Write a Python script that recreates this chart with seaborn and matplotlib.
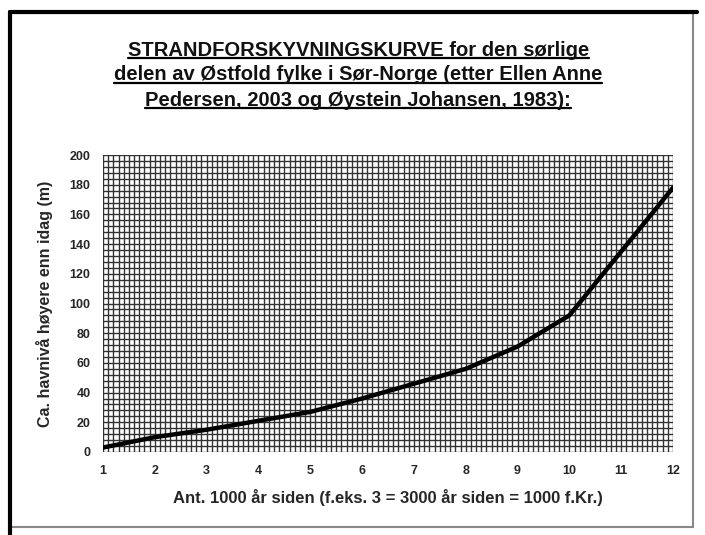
import matplotlib
matplotlib.use("Agg")
import matplotlib.pyplot as plt
import seaborn as sns
import pandas as pd
import numpy as np
from matplotlib.patches import Rectangle
from matplotlib.lines import Line2D

# Data
thousand_years = [1, 2, 3, 4, 5, 6, 7, 8, 9, 10, 11, 12]
sea_level_m = [3, 10, 15, 21, 27, 36, 46, 56, 71, 92, 135, 178]

title_lines = [
    "STRANDFORSKYVNINGSKURVE for den sørlige",
    "delen av Østfold fylke i Sør-Norge (etter Ellen Anne",
    "Pedersen, 2003 og Øystein Johansen, 1983):",
]
x_label = "Ant. 1000 år siden (f.eks. 3 = 3000 år siden = 1000 f.Kr.)"
y_label = "Ca. havnivå høyere enn idag (m)"

df = pd.DataFrame({"x": thousand_years, "y": sea_level_m})

sns.set_theme(style="white")
plt.rcParams["font.family"] = ["Liberation Sans", "DejaVu Sans"]

fig = plt.figure(figsize=(7.05, 5.35), dpi=100)
ax = fig.add_axes([103 / 705, 1 - 452 / 535, 570 / 705, 297 / 535])

# dense graph-paper grid
ax.set_xlim(1, 12)
ax.set_ylim(0, 200)
ax.set_xticks(range(1, 13))
ax.set_yticks(range(0, 201, 20))
ax.set_xticks(np.arange(1, 12.01, 0.1), minor=True)
ax.set_yticks(np.arange(0, 200.1, 4), minor=True)
ax.grid(which="both", color="#333333", linewidth=1.0)
ax.tick_params(which="minor", length=0)
ax.tick_params(which="major", length=0, labelsize=9, pad=9)
for lab in ax.get_xticklabels() + ax.get_yticklabels():
    lab.set_fontweight("bold")
for s in ax.spines.values():
    s.set_visible(False)

sns.lineplot(data=df, x="x", y="y", color="black", linewidth=3.2, ax=ax)

ax.set_xlabel(x_label, fontsize=12, fontweight="bold", labelpad=9)
ax.set_ylabel(y_label, fontsize=11.5, fontweight="bold", labelpad=12)

# title with underline
title_y = [50, 75, 100]
texts = []
for line, yp in zip(title_lines, title_y):
    t = fig.text(0.508, 1 - yp / 535, line, ha="center", va="center",
                 fontsize=14.5, fontweight="bold", color="#111111")
    texts.append(t)

fig.canvas.draw()
renderer = fig.canvas.get_renderer()
inv = fig.transFigure.inverted()
for t in texts:
    bb = t.get_window_extent(renderer)
    (x0, y0), (x1, y1) = inv.transform([[bb.x0, bb.y0], [bb.x1, bb.y1]])
    fig.add_artist(Line2D([x0, x1], [y0 + 0.003, y0 + 0.003], color="black",
                          linewidth=1.6, transform=fig.transFigure))

# outer frame like the scanned image
fig.add_artist(Rectangle((10 / 705, 1 - 527 / 535), 683 / 705, 514 / 535,
                         fill=False, edgecolor="#888888", linewidth=1.5,
                         transform=fig.transFigure))
fig.add_artist(Line2D([10 / 705, 10 / 705], [1 - 535 / 535, 1 - 12 / 535],
                      color="black", linewidth=3, transform=fig.transFigure))
fig.add_artist(Line2D([10 / 705, 697 / 705], [1 - 12 / 535, 1 - 12 / 535],
                      color="black", linewidth=3, transform=fig.transFigure))

fig.savefig("out.png", dpi=100)
